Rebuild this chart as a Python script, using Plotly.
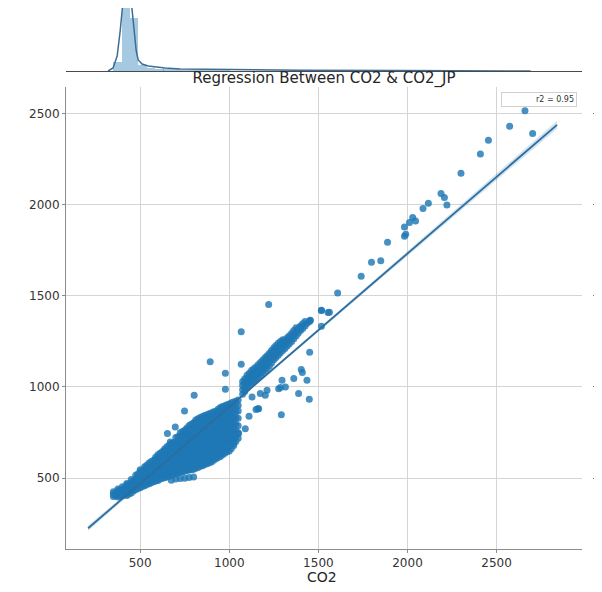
import plotly.graph_objects as go

W, H = 602, 592
OFF = 8  # the page body adds an 8 px margin; layout pixels are given in screen coords


def px(p):
    return (p - OFF) / W


def py(p):
    return 1 - (p - OFF) / H


# ---------------- data ----------------
# dense cluster, listed column by column: CO2 value -> CO2_JP values
blob_co2 = [350, 375, 400, 425, 450, 475, 500, 525, 550, 575, 600, 625, 650, 675, 700,
            725, 750, 775, 800, 825, 850, 875, 900, 925, 950, 975, 1000, 1025, 1050]
blob_co2jp = [
    [398, 412, 424],
    [396, 409, 428, 440],
    [402, 418, 437, 452],
    [404, 421, 441, 462, 470],
    [418, 433, 455, 474, 492],
    [436, 452, 471, 494, 515],
    [446, 463, 488, 510, 533, 545],
    [458, 476, 500, 522, 548, 562],
    [468, 488, 512, 538, 561, 582],
    [479, 497, 523, 549, 572, 598],
    [486, 506, 531, 557, 584, 606, 628],
    [498, 519, 543, 567, 592, 618, 645],
    [506, 528, 552, 579, 603, 628, 652, 672],
    [488, 516, 538, 562, 588, 612, 639, 664, 690],
    [494, 524, 549, 573, 598, 624, 648, 673, 697, 722],
    [497, 532, 556, 581, 604, 629, 655, 679, 704, 731, 748],
    [499, 537, 561, 586, 611, 636, 661, 686, 709, 736, 762],
    [503, 544, 566, 592, 616, 642, 666, 691, 716, 741, 766, 788],
    [506, 548, 574, 598, 621, 647, 672, 698, 722, 747, 772, 803],
    [558, 583, 606, 632, 658, 683, 707, 732, 757, 782, 826],
    [568, 592, 618, 643, 667, 693, 718, 742, 768, 793, 817, 838],
    [578, 603, 627, 653, 679, 703, 728, 752, 777, 803, 828, 848],
    [588, 612, 638, 662, 688, 712, 738, 763, 787, 812, 838, 857],
    [606, 633, 657, 683, 708, 733, 758, 782, 808, 833, 866],
    [618, 642, 668, 692, 718, 743, 767, 793, 818, 843, 868, 888],
    [636, 663, 688, 712, 738, 763, 788, 813, 838, 862, 897],
    [648, 677, 703, 728, 757, 787, 818, 848, 878, 907],
    [678, 708, 738, 768, 798, 828, 858, 888, 918],
    [718, 748, 787, 828, 868, 898, 928],
]
# more points of the dense cluster, between the columns above
blob_mid_co2 = [362, 387, 412, 437, 462, 487, 512, 537, 562, 587, 612, 637, 662, 687,
                712, 737, 762, 787, 812, 837, 862, 887, 912, 937, 962, 987, 1012, 1037]
blob_mid_co2jp = [
    [402, 418],
    [400, 418, 434],
    [408, 428, 446],
    [412, 432, 452, 466],
    [428, 446, 466, 484],
    [442, 462, 484, 505, 522],
    [454, 476, 498, 520, 540],
    [464, 488, 510, 534, 556, 570],
    [474, 496, 520, 545, 568, 590],
    [484, 504, 528, 553, 578, 602, 614],
    [494, 514, 538, 562, 588, 612, 636],
    [502, 524, 548, 572, 598, 622, 648, 660],
    [510, 533, 557, 582, 607, 632, 657, 680],
    [520, 541, 566, 592, 617, 642, 667, 694],
    [528, 552, 577, 602, 627, 652, 677, 702, 726],
    [534, 560, 584, 608, 634, 658, 683, 708, 734, 755],
    [541, 564, 589, 614, 639, 664, 689, 714, 739, 765, 775],
    [546, 570, 595, 620, 645, 670, 695, 720, 745, 770, 795],
    [553, 580, 604, 628, 653, 678, 703, 728, 753, 778, 805, 818],
    [564, 588, 613, 638, 663, 688, 713, 738, 763, 788, 813, 832],
    [574, 598, 623, 648, 673, 698, 723, 748, 773, 798, 823, 844],
    [584, 608, 633, 658, 683, 708, 733, 758, 783, 808, 833, 853],
    [598, 624, 648, 673, 698, 723, 748, 773, 798, 823, 848, 864],
    [612, 638, 663, 688, 713, 738, 763, 788, 813, 838, 862, 878],
    [628, 652, 678, 703, 728, 753, 778, 803, 828, 853, 880, 893],
    [644, 670, 696, 722, 748, 775, 802, 828, 852, 878, 903],
    [662, 692, 720, 748, 776, 804, 834, 862, 892, 914],
    [700, 728, 760, 795, 830, 862, 892, 922],
]
# narrow diagonal band above the cluster
band_co2 = [1075, 1100, 1125, 1150, 1175, 1200, 1225, 1250, 1275, 1300, 1325, 1350,
            1375, 1400, 1425, 1450,
            1087, 1112, 1137, 1162, 1187, 1212, 1237, 1262, 1287, 1312, 1337, 1362,
            1387, 1412, 1437]
band_co2jp = [
    [960, 985, 1010, 1030],
    [995, 1020, 1045, 1065],
    [1020, 1045, 1070, 1090],
    [1040, 1065, 1090, 1110],
    [1065, 1090, 1115, 1135],
    [1090, 1115, 1140, 1160],
    [1115, 1140, 1165, 1185],
    [1150, 1175, 1200, 1215],
    [1175, 1200, 1220, 1240],
    [1200, 1225, 1245, 1260],
    [1225, 1250, 1270],
    [1250, 1275, 1295],
    [1280, 1305, 1325],
    [1310, 1335],
    [1335, 1360],
    [1360],
    [975, 1000, 1025, 1045],
    [1005, 1030, 1055, 1075],
    [1030, 1055, 1080, 1100],
    [1052, 1077, 1102, 1122],
    [1078, 1102, 1127, 1147],
    [1102, 1127, 1152, 1172],
    [1132, 1157, 1182, 1200],
    [1162, 1187, 1210, 1228],
    [1188, 1212, 1232, 1250],
    [1212, 1237, 1258],
    [1238, 1262, 1282],
    [1265, 1290, 1310],
    [1295, 1320],
    [1322, 1348],
    [1350],
]
# scattered individual points
single_co2 = [1221, 1517, 1554, 1455, 1067, 893, 1067, 978, 1451, 1404, 1410, 1362, 1436,
              1296, 1315, 1277, 1389, 1449, 1292, 1202, 1161, 1111, 1090, 803, 749, 978,
              697, 653, 669, 1052, 1024, 1015, 1165, 1174, 1287, 1128, 1150, 1212,
              2659, 2573, 2702, 2454, 2409, 2300, 2188, 2207, 2221, 2117, 2087, 2029,
              2011, 2045, 1983, 1990, 1983, 1888, 1850, 1798, 1740, 1608, 1517, 1562,
              1453, 1399, 1517]
single_co2jp = [1453, 1421, 1409, 1366, 1304, 1139, 1125, 1075, 1191, 1096, 1080, 1046, 1037,
                1037, 1000, 991, 964, 933, 848, 954, 881, 839, 771, 954, 868, 987,
                780, 744, 698, 744, 689, 707, 881, 964, 997, 945, 877, 982,
                2518, 2433, 2393, 2355, 2280, 2174, 2063, 2041, 2000, 2009, 1980, 1931,
                1903, 1912, 1879, 1839, 1828, 1795, 1694, 1685, 1608, 1516, 1420, 1410,
                1365, 1330, 1334]

# regression line and its confidence band
reg_co2 = [208, 2839]
reg_co2jp = [224, 2440]
ci_co2 = [208, 700, 1200, 1800, 2839]
ci_low = [209, 633, 1054, 1555, 2418]
ci_high = [239, 643, 1064, 1575, 2462]

# top marginal: histogram of CO2 and its KDE (heights in plot pixels)
hist_co2_centers = [373, 420, 467, 514, 561, 608, 654, 701, 748, 795, 842, 888, 935, 982,
                    1100, 1300, 1500, 1700, 1900, 2100, 2300, 2500, 2700]
hist_co2_heights = [9, 80, 53, 6, 3, 2.5, 2, 1.6, 1.4, 1.2, 1.0, 0.9, 0.8, 0.7,
                    0.5, 0.4, 0.4, 0.3, 0.3, 0.3, 0.3, 0.3, 0.2]
hist_bin_width = 47
kde_co2 = [320, 348, 371, 388, 404, 416, 427, 444, 455, 466, 478, 489, 511, 545, 584, 640,
           725, 893, 1062, 1399, 1961, 2522, 2635, 2691]
kde_density = [0, 3, 15, 40, 70, 85, 90, 80, 60, 35, 20, 11, 7, 5, 4, 3,
               2, 1.5, 1, 0.7, 0.5, 0.3, 0.2, 0]

# right marginal: histogram of CO2_JP (only its left edge is visible)
hist_jp_centers = [420, 480, 540, 600, 660, 720, 780, 840, 900, 1000, 1200]
hist_jp_lengths = [6, 6, 6, 4, 1, 0.6, 0.4, 0.3, 0.2, 0.2, 0.1]

x_ticks = [500, 1000, 1500, 2000, 2500]
y_ticks = [500, 1000, 1500, 2000, 2500]

# ---------------- assemble points ----------------
pts_x, pts_y = [], []
for cols, vals in ((blob_co2, blob_co2jp), (blob_mid_co2, blob_mid_co2jp),
                   (band_co2, band_co2jp)):
    for xv, ys in zip(cols, vals):
        for yv in ys:
            pts_x.append(xv)
            pts_y.append(yv)
pts_x += single_co2
pts_y += single_co2jp

C0 = "rgba(31,119,180,0.82)"
fig = go.Figure()

fig.add_trace(go.Scatter(x=pts_x, y=pts_y, mode="markers",
                         marker=dict(size=7, color=C0, line=dict(width=0)),
                         xaxis="x", yaxis="y", hoverinfo="skip", showlegend=False))
fig.add_trace(go.Scatter(x=ci_co2 + ci_co2[::-1], y=ci_high + ci_low[::-1],
                         fill="toself", fillcolor="rgba(31,119,180,0.2)",
                         line=dict(width=0), mode="lines",
                         xaxis="x", yaxis="y", hoverinfo="skip", showlegend=False))
fig.add_trace(go.Scatter(x=reg_co2, y=reg_co2jp, mode="lines",
                         line=dict(color="#2c6d9f", width=1.8),
                         xaxis="x", yaxis="y", showlegend=False))

fig.add_trace(go.Bar(x=hist_co2_centers, y=hist_co2_heights, width=hist_bin_width,
                     marker=dict(color="rgba(31,119,180,0.4)", line=dict(width=0)),
                     xaxis="x2", yaxis="y2", showlegend=False))
fig.add_trace(go.Scatter(x=kde_co2, y=kde_density, mode="lines",
                         line=dict(color="#3d6d96", width=1.5),
                         xaxis="x2", yaxis="y2", showlegend=False))

fig.add_trace(go.Bar(y=hist_jp_centers, x=hist_jp_lengths, orientation="h", width=60,
                     marker=dict(color="rgba(31,119,180,0.4)", line=dict(width=0)),
                     xaxis="x3", yaxis="y3", showlegend=False))

x_dom = [px(66), px(582)]
y_dom = [py(549), py(87)]

axis_common = dict(showgrid=True, gridcolor="#d4d4d4", gridwidth=1, zeroline=False,
                   showline=True, linecolor="#8c8c8c", linewidth=1,
                   ticks="outside", ticklen=3, tickcolor="#8c8c8c",
                   tickfont=dict(family="DejaVu Sans", size=12, color="#333333"))

fig.update_layout(
    width=W, height=H,
    margin=dict(l=0, r=0, t=0, b=0),
    paper_bgcolor="white", plot_bgcolor="white",
    font=dict(family="DejaVu Sans", color="#333333"),
    bargap=0,
    title=dict(text="Regression Between CO2 & CO2_JP", x=px(324), xanchor="center",
               y=py(78), yanchor="middle", xref="paper", yref="paper",
               font=dict(family="DejaVu Sans", size=15, color="#262626")),
    xaxis=dict(domain=x_dom, range=[84, 2979], tickvals=x_ticks, anchor="y",
               automargin=False, **axis_common),
    yaxis=dict(domain=y_dom, range=[110, 2648], tickvals=y_ticks, anchor="x",
               automargin=False, **axis_common),
    xaxis2=dict(domain=x_dom, matches="x", anchor="y2", showgrid=False, zeroline=False,
                showline=True, linecolor="#4a4a4a", linewidth=1, showticklabels=False,
                ticks=""),
    yaxis2=dict(domain=[py(71), 1], range=[0, 63], anchor="x2", visible=False),
    xaxis3=dict(domain=[px(597), 1], range=[0, 10], anchor="y3", visible=False),
    yaxis3=dict(domain=y_dom, matches="y", anchor="x3", showgrid=False, zeroline=False,
                showline=True, linecolor="#555555", linewidth=1, showticklabels=False,
                ticks="outside", ticklen=3, tickcolor="#777777", tickvals=y_ticks),
    annotations=[
        dict(text="CO2", x=px(322), y=py(577), xref="paper", yref="paper",
             xanchor="center", yanchor="middle", showarrow=False,
             font=dict(family="DejaVu Sans", size=14, color="#262626")),
        dict(text="r2 = 0.95", x=px(577), y=py(92), xref="paper", yref="paper",
             xanchor="right", yanchor="top", showarrow=False, align="right",
             width=70, borderpad=2, bordercolor="#d0d0d0", borderwidth=1,
             bgcolor="white", font=dict(family="DejaVu Sans", size=8, color="#333333")),
    ],
)

fig.write_html("out.html")
